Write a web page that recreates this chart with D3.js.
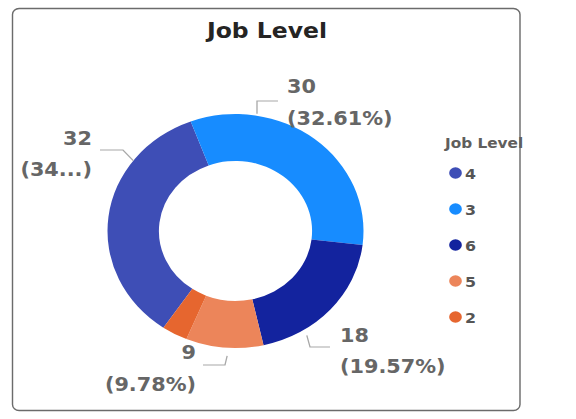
<!DOCTYPE html>
<html>
<head>
<meta charset="utf-8">
<script src="https://cdn.jsdelivr.net/npm/d3@7"></script>
<style>
  html, body { margin: 0; padding: 0; background: #ffffff; }
  svg { display: block; }
</style>
</head>
<body>
<svg id="chart" width="576" height="419"></svg>
<script>
// ---------- data ----------
const chartTitle = "Job Level";
const legendTitle = "Job Level";
const categories = ["4", "3", "6", "5", "2"];
const values = [32, 30, 18, 9, 3];
const colors = ["#3E4EB6", "#178CFF", "#13239E", "#EC855A", "#E6662F"];

// ---------- layout ----------
const W = 576, H = 419;
const S = 1.094;            // horizontal stretch of the original screenshot
const X = x => x / S;       // screen x -> inner x
const cx = 235.5, cy = 231, R = 117, Rin = 70;
const deg = Math.PI / 180;
const startAngle = -145.7 * deg;

// label layout: anchor angle on the ring (deg), gap, elbow & end (screen), text anchor/x/baselines
const labelLayout = {
  "4": { angle: -53, gap: 0, elbow: [123, 150], end: [100, 150], anchor: "end",   tx: 92,  ty: [145, 176], truncate: true },
  "3": { angle: 9.5, gap: 2, elbow: [257, 101], end: [278, 101], anchor: "start", tx: 287, ty: [93, 125] },
  "6": { angle: 148, gap: 6, elbow: [310, 347], end: [330, 347], anchor: "start", tx: 340, ty: [342, 373] },
  "5": { angle: 183.5, gap: 8, elbow: [225, 365], end: [203, 365], anchor: "end", tx: 196, ty: [359, 391] }
};

const svg = d3.select("#chart");
const root = svg.append("g").attr("transform", `scale(${S},1)`);

// card
root.append("rect")
  .attr("x", X(12.5)).attr("y", 8.5)
  .attr("width", X(520) - X(12.5)).attr("height", 402)
  .attr("rx", 6).attr("ry", 6)
  .attr("fill", "#ffffff")
  .attr("stroke", "#6b6b6b").attr("stroke-width", 1.3);

// title
root.append("text")
  .attr("x", X(267)).attr("y", 38)
  .attr("text-anchor", "middle")
  .attr("font-family", "DejaVu Sans, sans-serif")
  .attr("font-weight", "bold")
  .attr("font-size", 21.5)
  .attr("fill", "#252423")
  .text(chartTitle);

// donut
const data = categories.map((c, i) => ({ cat: c, value: values[i], color: colors[i] }));
const total = d3.sum(values);
const pie = d3.pie().sort(null).value(d => d.value)
  .startAngle(startAngle).endAngle(startAngle + 2 * Math.PI);
const arcs = pie(data);
const arc = d3.arc().innerRadius(Rin).outerRadius(R);

const g = root.append("g").attr("transform", `translate(${X(cx)},${cy})`);
g.selectAll("path.slice").data(arcs).join("path")
  .attr("class", "slice")
  .attr("d", arc)
  .attr("fill", d => d.data.color);

// leader lines & labels
const labelG = root.append("g");
arcs.forEach(a => {
  const L = labelLayout[a.data.cat];
  if (!L) return;
  const ang = L.angle * deg;
  const rr = R + L.gap;
  const p0 = [X(cx) + rr * Math.sin(ang), cy - rr * Math.cos(ang)];
  const pts = [p0, [X(L.elbow[0]), L.elbow[1]], [X(L.end[0]), L.end[1]]];
  labelG.append("path")
    .attr("d", d3.line()(pts))
    .attr("fill", "none")
    .attr("stroke", "#a8a8a8")
    .attr("stroke-width", 1.2);
  const pct = (a.data.value / total * 100).toFixed(2) + "%";
  const line2 = L.truncate ? "(" + pct.slice(0, 2) + "...)" : "(" + pct + ")";
  [String(a.data.value), line2].forEach((t, i) => {
    labelG.append("text")
      .attr("x", X(L.tx)).attr("y", L.ty[i])
      .attr("text-anchor", L.anchor)
      .attr("font-family", "DejaVu Sans, sans-serif")
      .attr("font-weight", "bold")
      .attr("font-size", 19)
      .attr("fill", "#666666")
      .text(t);
  });
});

// legend
const leg = root.append("g");
leg.append("text")
  .attr("x", X(445)).attr("y", 148)
  .attr("font-family", "DejaVu Sans, sans-serif")
  .attr("font-weight", "bold")
  .attr("font-size", 14)
  .attr("fill", "#605E5C")
  .text(legendTitle);
const legY = d3.scalePoint().domain(categories).range([173, 317]);
const items = leg.selectAll("g.item").data(data).join("g")
  .attr("class", "item")
  .attr("transform", d => `translate(${X(455.5)},${legY(d.cat)})`);
items.append("circle").attr("r", 5.8).attr("fill", d => d.color);
items.append("text")
  .attr("x", X(465) - X(455.5)).attr("y", 5.5)
  .attr("font-family", "DejaVu Sans, sans-serif")
  .attr("font-weight", "bold")
  .attr("font-size", 14.5)
  .attr("fill", "#555555")
  .text(d => d.cat);
</script>
</body>
</html>
